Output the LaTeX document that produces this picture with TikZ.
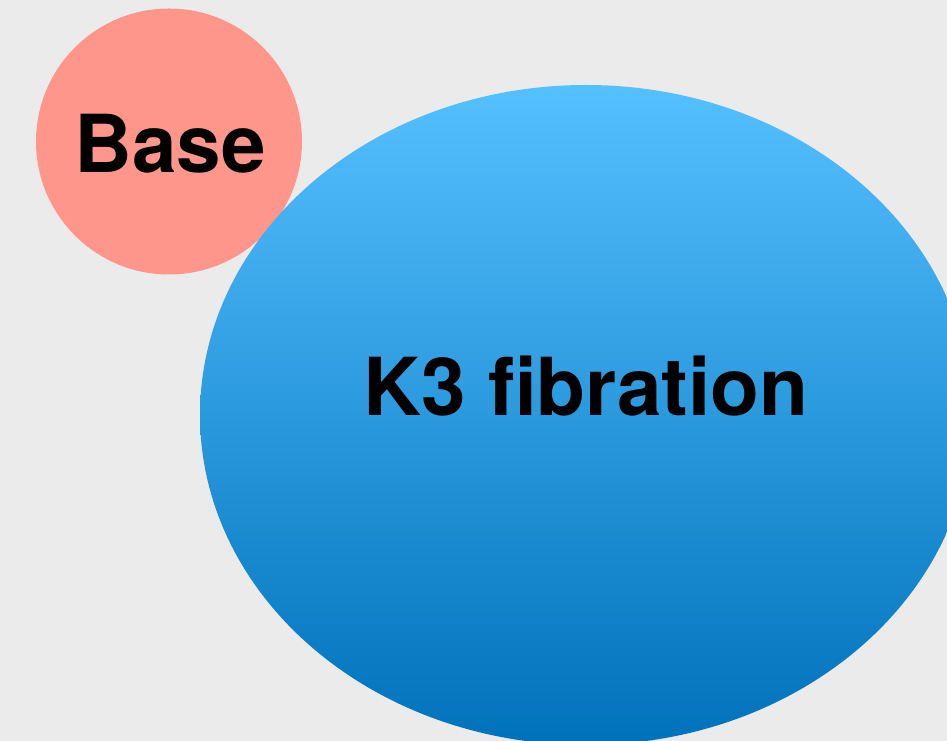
\documentclass[tikz,border=0pt]{standalone}
\usepackage{fontspec}
\setmainfont{TeX Gyre Heros}
\usetikzlibrary{shapes.geometric}
\definecolor{pagebg}{RGB}{235,235,235}
\definecolor{basepink}{RGB}{255,150,139}
\definecolor{fibtop}{RGB}{85,192,255}
\definecolor{fibbottom}{RGB}{0,114,187}
\tikzset{
  bigtext/.style={font=\fontsize{80}{96}\selectfont\bfseries, text=black, inner sep=0pt, anchor=base},
  basedisc/.style={circle, fill=basepink, minimum size=266pt, inner sep=0pt},
  fibdisc/.style={ellipse, top color=fibtop, bottom color=fibbottom, minimum width=772pt, minimum height=660pt, inner sep=0pt}
}
\begin{document}
\begin{tikzpicture}[x=1pt,y=1pt]
  \fill[pagebg] (0,0) rectangle (947,741);
  \useasboundingbox (0,0) rectangle (947,741);
  \clip (0,0) rectangle (947,741);
  % base disc, partly covered by the fibration
  \node[basedisc] (base) at (169,599.5) {};
  \node[fibdisc] (fib) at (586,326) {};
  \node[bigtext] (basetext) at (170,568) {Base};
  \node[bigtext] (fibtext) at (586,325) {K3 fibration};
\end{tikzpicture}
\end{document}
